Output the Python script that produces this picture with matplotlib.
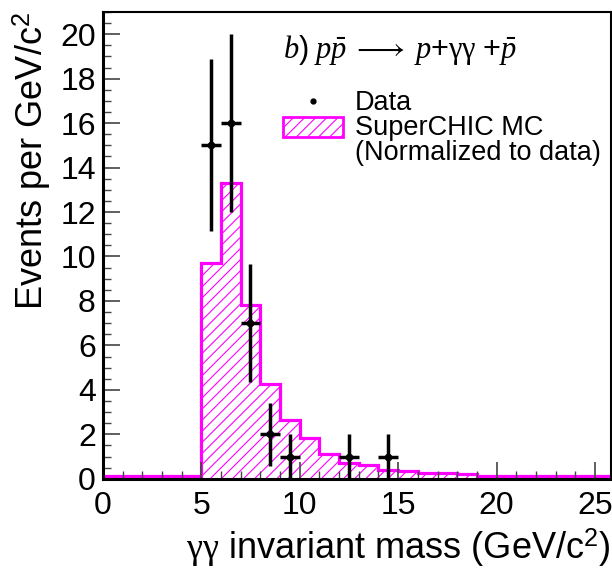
import matplotlib

matplotlib.use("Agg")
import matplotlib.pyplot as plt
from matplotlib.patches import Rectangle
import numpy as np

# SuperCHIC MC histogram (1 GeV/c^2 bins from 0 to 26)
mc_edges = list(range(0, 27))
mc_counts = [0.12, 0.12, 0.12, 0.12, 0.12,
             9.7, 13.3, 7.8, 4.25, 2.65, 1.85, 1.1, 0.7, 0.6, 0.38,
             0.35, 0.28, 0.25, 0.22, 0.12, 0.12, 0.12, 0.12, 0.12, 0.12, 0.12]

# data points
data_x = [5.5, 6.5, 7.5, 8.5, 9.5, 12.5, 14.5]
data_y = [15, 16, 7, 2, 1, 1, 1]
data_err = [3.87, 4.0, 2.65, 1.41, 1.0, 1.0, 1.0]
data_xerr = 0.5

MAGENTA = "#ff00ff"

plt.rcParams["font.family"] = ["Liberation Sans", "DejaVu Sans"]
plt.rcParams["mathtext.fontset"] = "custom"
plt.rcParams["mathtext.rm"] = "Liberation Sans"
plt.rcParams["mathtext.it"] = "Liberation Serif:italic"
plt.rcParams["mathtext.bf"] = "Liberation Serif"
plt.rcParams["hatch.color"] = MAGENTA
plt.rcParams["hatch.linewidth"] = 0.8

fig = plt.figure(figsize=(6.12, 5.68), dpi=100)
ax = fig.add_axes([0.168, 0.157, 0.830, 0.822])

centers = np.array(mc_edges[:-1]) + 0.5
ax.bar(centers, mc_counts, width=1.0, facecolor="none", edgecolor=MAGENTA,
       hatch="///", linewidth=0)
ax.stairs(mc_counts, mc_edges, color=MAGENTA, linewidth=2.3, baseline=None)

ax.errorbar(data_x, data_y, xerr=data_xerr, yerr=data_err, fmt="o", color="black",
            markersize=4.5, elinewidth=2.5, capsize=0)

ax.set_xlim(0, 25.8)
ax.set_ylim(0, 21.0)
ax.set_xticks(range(0, 26, 5))
ax.set_xticks(range(0, 26), minor=True)
ax.set_yticks(range(0, 21, 2))
ax.set_yticks(np.arange(0, 21.01, 0.5), minor=True)
ax.tick_params(which="both", direction="in", labelsize=23, color="#444444")
ax.tick_params(which="major", length=12, width=1.2)
ax.tick_params(which="minor", length=6, width=1.0)
ax.tick_params(axis="y", pad=5)
ax.tick_params(axis="x", pad=9)
for side in ("left", "bottom"):
    ax.spines[side].set_linewidth(2.2)
for side in ("top", "right"):
    ax.spines[side].set_linewidth(1.5)

ax.set_ylabel("Events per GeV/c$^{2}$", fontsize=26, loc="top")
ax.yaxis.set_label_coords(-0.098, 1.0)
ax.set_xlabel(r"$\mathbf{\gamma\gamma}$ invariant mass (GeV/c$^{2}$)", fontsize=26,
              loc="right", labelpad=4)

# process label
ax.text(9.14, 19.3,
        r"$b)\ p\bar{p}\;\longrightarrow\;p{+}\mathbf{\gamma\gamma}\ {+}\bar{p}$",
        fontsize=22, va="center", ha="left")

# legend drawn by hand
ax.plot([10.66], [17.0], "o", color="black", markersize=3.5)
ax.text(12.8, 16.9, "Data", fontsize=19.5, va="center", ha="left")
ax.add_patch(Rectangle((9.14, 15.38), 3.05, 0.9, facecolor="none", edgecolor=MAGENTA,
                       hatch="///", linewidth=2.0))
ax.text(12.8, 15.8, "SuperCHIC MC", fontsize=19.5, va="center", ha="left")
ax.text(12.8, 14.65, "(Normalized to data)", fontsize=19.5, va="center", ha="left")

fig.savefig("out.png", dpi=100)
